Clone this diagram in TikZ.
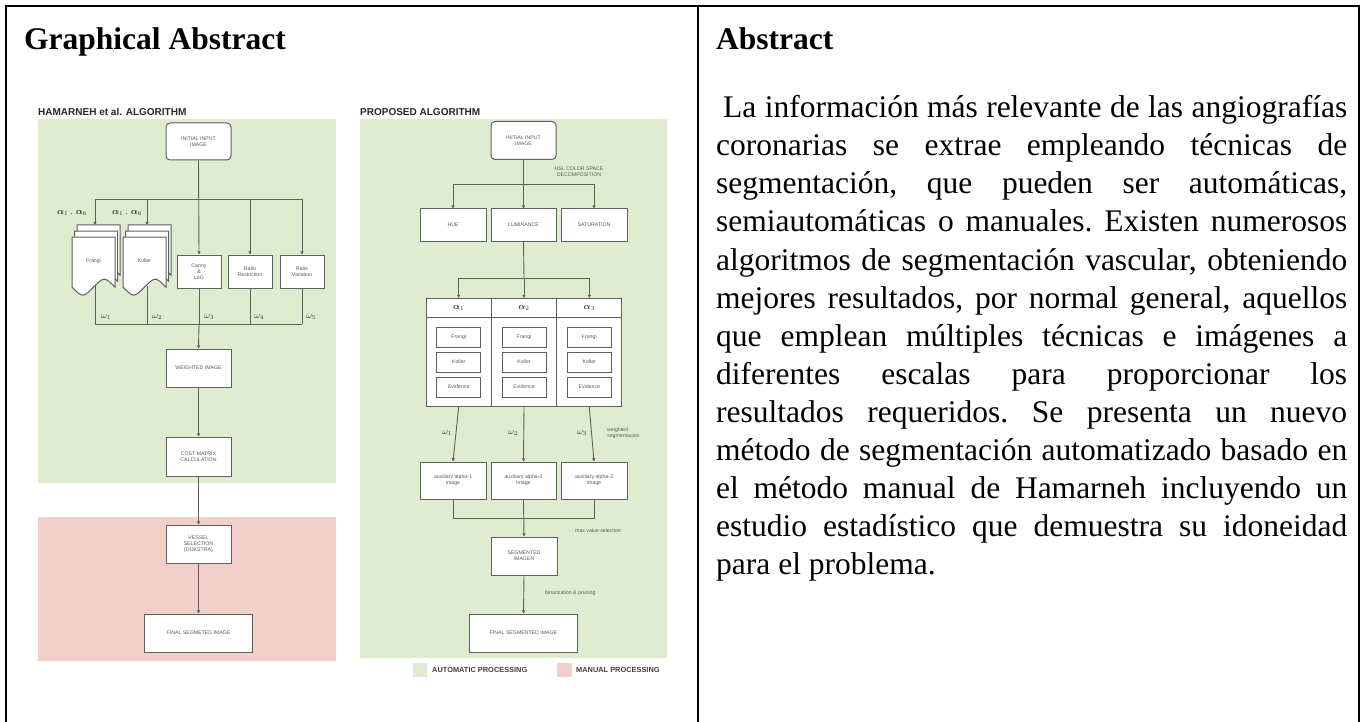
\documentclass[tikz,border=0pt]{standalone}
\usepackage{amsmath}
\usepackage{fontspec}
\setmainfont{Liberation Serif}
\setsansfont{Liberation Sans}
\usetikzlibrary{arrows.meta}
\definecolor{greenbg}{RGB}{224,236,208}
\definecolor{pinkbg}{RGB}{240,208,200}
\definecolor{boxgray}{RGB}{95,95,95}
\definecolor{txtgray}{RGB}{90,90,90}
\newcommand\DocPage[4]{%
  \pgfmathsetmacro\dy{0.3*#4}%
  \filldraw[fill=white,draw=boxgray,line width=1pt]
    (#1,#2) -- ({#1+#3},#2) -- ({#1+#3},{#2+#4-\dy/2})
    .. controls ({#1+0.75*#3},{#2+#4-1.1*\dy}) .. ({#1+0.5*#3},{#2+#4-\dy/2})
    .. controls ({#1+0.25*#3},{#2+#4+0.1*\dy}) .. (#1,{#2+#4-\dy/2}) -- cycle;}
\newcommand\JL[1]{\hbox to 631pt{\frenchspacing\spaceskip=0.25em plus 1fil\relax #1}}
\tikzset{
  box/.style={draw=boxgray,fill=white,line width=1pt,inner sep=0pt,align=center,
    text=txtgray,font=\sffamily\fontsize{5.2}{6}\selectfont},
  rbox/.style={box,rounded corners=4pt},
  plain/.style={draw=boxgray,line width=0.9pt},
  arr/.style={plain,-{Triangle[width=3.2pt,length=3.2pt]}},
  small/.style={text=txtgray,font=\sffamily\fontsize{5.2}{6}\selectfont,inner sep=0pt,align=left},
  omega/.style={text=black!80,font=\fontsize{9}{10}\selectfont,inner sep=0pt},
  hdr/.style={font=\sffamily\bfseries\fontsize{10}{11}\selectfont,inner sep=0pt,text=black!85},
  leg/.style={font=\sffamily\bfseries\fontsize{7.4}{9}\selectfont,inner sep=0pt,text=black!75},
  border/.style={line width=2.4pt,black},
  ttl/.style={anchor=base west,inner sep=0pt,font=\bfseries\fontsize{31.5}{36}\selectfont},
  bl/.style={anchor=base west,inner sep=0pt,font=\fontsize{31.5}{36}\selectfont}
}
\begin{document}
\begin{tikzpicture}[x=1pt,y=-1pt]
\useasboundingbox (0,0) rectangle (1365,722);
% table frame
\draw[border] (6,722) -- (6,6) -- (1359,6) -- (1359,722);
\draw[border] (698,6) -- (698,722);
\node[ttl] (tgraph) at (24,50) {Graphical Abstract};
\node[ttl] (tabs) at (716,50) {Abstract};
% abstract body
\node[bl] (b1) at (716,118) {\JL{\hspace*{7pt}La información más relevante de las angiografías}};
\node[bl] (b2) at (716,156) {\JL{coronarias se extrae empleando técnicas de}};
\node[bl] (b3) at (716,194) {\JL{segmentación, que pueden ser automáticas,}};
\node[bl] (b4) at (716,232) {\JL{semiautomáticas o manuales. Existen numerosos}};
\node[bl] (b5) at (716,270) {\JL{algoritmos de segmentación vascular, obteniendo}};
\node[bl] (b6) at (716,308) {\JL{mejores resultados, por normal general, aquellos}};
\node[bl] (b7) at (716,346) {\JL{que emplean múltiples técnicas e imágenes a}};
\node[bl] (b8) at (716,384) {\JL{diferentes escalas para proporcionar los}};
\node[bl] (b9) at (716,422) {\JL{resultados requeridos. Se presenta un nuevo}};
\node[bl] (b10) at (716,460) {\JL{método de segmentación automatizado basado en}};
\node[bl] (b11) at (716,498) {\JL{el método manual de Hamarneh incluyendo un}};
\node[bl] (b12) at (716,536) {\JL{estudio estadístico que demuestra su idoneidad}};
\node[bl] (b13) at (716,574) {para el problema.};
% ================= LEFT DIAGRAM =================
\fill[greenbg] (38,119) rectangle (336,483);
\fill[pinkbg] (38,517) rectangle (336,661);
\node[hdr,anchor=west] (hL) at (38,112) {HAMARNEH et al. ALGORITHM};
\node[rbox,minimum width=65pt,minimum height=37pt] (iniL) at (198.5,141.5) {INITIAL INPUT\\IMAGE};
% document stacks
\DocPage{77}{225}{43}{59}\DocPage{74.5}{231}{43}{59}\DocPage{72}{237}{43}{59}
\DocPage{128}{225}{43}{59}\DocPage{125.5}{231}{43}{59}\DocPage{123}{237}{43}{59}
\node[small,align=center] (frangi) at (93.5,261) {Frangi};
\node[small,align=center] (koller) at (144.5,261) {Koller};
\coordinate (frT) at (95,225); \coordinate (koT) at (147,225);
\coordinate (frB) at (95,286); \coordinate (koB) at (147,286);
\node[omega] (alA) at (72,213) {$\boldsymbol{\alpha}_1$ . $\boldsymbol{\alpha}_6$};
\node[omega] (alB) at (127,213) {$\boldsymbol{\alpha}_1$ . $\boldsymbol{\alpha}_6$};
\node[box,minimum width=44pt,minimum height=33pt] (canny) at (199,271.5) {Canny\\\&\\LoG};
\node[box,minimum width=44pt,minimum height=33pt] (rr) at (250,271.5) {Ratio\\Restriction};
\node[box,minimum width=44pt,minimum height=33pt] (rv) at (302,271.5) {Ratio\\Variation};
\coordinate (jA) at (95,199); \coordinate (jB) at (147,199);
\coordinate (jD) at (250,199); \coordinate (jE) at (302,199);
\draw[plain] (jA) -- (jE);
\draw[arr] (iniL.south) -- (canny.north);
\draw[arr] (jA) -- (frT);
\draw[arr] (jB) -- (koT);
\draw[arr] (jD) -- (rr.north);
\draw[arr] (jE) -- (rv.north);
\coordinate (bA) at (95,324); \coordinate (bB) at (147,324); \coordinate (bC) at (199,324);
\coordinate (bD) at (250,324); \coordinate (bE) at (302,324);
\draw[plain] (frB) -- (bA) -- (bE);
\draw[plain] (koB) -- (bB);
\draw[plain] (canny.south) -- (bC);
\draw[plain] (rr.south) -- (bD);
\draw[plain] (rv.south) -- (bE);
\node[omega,anchor=west] (wl1) at (101,317) {$\omega_1$};
\node[omega,anchor=west] (wl2) at (152,317) {$\omega_2$};
\node[omega,anchor=west] (wl3) at (204,317) {$\omega_3$};
\node[omega,anchor=west] (wl4) at (254,317) {$\omega_4$};
\node[omega,anchor=west] (wl5) at (306,317) {$\omega_5$};
\node[box,minimum width=65pt,minimum height=38pt] (wimg) at (198.5,368) {WEIGHTED IMAGE};
\node[box,minimum width=65pt,minimum height=39pt] (cost) at (198.5,456.5) {COST MATRIX\\CALCULATION};
\node[box,minimum width=65pt,minimum height=38pt] (vessel) at (198.5,544) {VESSEL\\SELECTION\\(DIJKSTRA)};
\node[box,minimum width=108pt,minimum height=38pt] (finL) at (198.5,633) {FINAL SEGMETED IMAGE};
\draw[arr] (bC) -- (wimg.north);
\draw[arr] (wimg.south) -- (cost.north);
\draw[arr] (cost.south) -- (vessel.north);
\draw[arr] (vessel.south) -- (finL.north);
% ================= RIGHT DIAGRAM =================
\fill[greenbg] (360,119) rectangle (667,658);
\node[hdr,anchor=west] (hR) at (360,112) {PROPOSED ALGORITHM};
\node[rbox,minimum width=65pt,minimum height=38pt] (iniR) at (523.5,140.5) {INITIAL INPUT\\IMAGE};
\node[small,align=center] (hsl) at (579,172) {HSL COLOR SPACE\\DECOMPOSITION};
\node[box,minimum width=66pt,minimum height=32pt] (hue) at (453,225) {HUE};
\node[box,minimum width=65pt,minimum height=32pt] (lum) at (523.5,225) {LUMINANCE};
\node[box,minimum width=66pt,minimum height=32pt] (sat) at (594,225) {SATURATION};
\coordinate (hA) at (453,184); \coordinate (hC) at (594,184);
\draw[plain] (hA) -- (hC);
\draw[arr] (iniR.south) -- (lum.north);
\draw[arr] (hA) -- (hue.north);
\draw[arr] (hC) -- (sat.north);
% alpha table
\node[box,minimum width=65.3pt,minimum height=108pt,anchor=north] (c1) at (458.7,298) {};
\node[box,minimum width=65.3pt,minimum height=108pt,anchor=north] (c2) at (524,298) {};
\node[box,minimum width=65.3pt,minimum height=108pt,anchor=north] (c3) at (589.3,298) {};
\coordinate (tL) at (426,317); \coordinate (tR) at (622,317);
\draw[boxgray,line width=1pt] (tL) -- (tR);
\node[omega] (a1) at (458.7,307.5) {$\boldsymbol{\alpha}_1$};
\node[omega] (a2) at (524,307.5) {$\boldsymbol{\alpha}_2$};
\node[omega] (a3) at (589.3,307.5) {$\boldsymbol{\alpha}_3$};
\foreach \cx/\k in {458.7/1,524/2,589.3/3}{
  \node[box,minimum width=44pt,minimum height=20pt] (f\k) at (\cx,337) {Frangi};
  \node[box,minimum width=44pt,minimum height=20pt] (k\k) at (\cx,362) {Koller};
  \node[box,minimum width=44pt,minimum height=20pt] (e\k) at (\cx,387) {Evidence};
}
\coordinate (lA) at (458.7,278); \coordinate (lC) at (589.3,278);
\coordinate (lB) at (524,278);
\draw[plain] (lum.south) -- (lB);
\draw[plain] (lA) -- (lC);
\draw[arr] (lA) -- (c1.north);
\draw[arr] (lB) -- (c2.north);
\draw[arr] (lC) -- (c3.north);
\node[box,minimum width=66pt,minimum height=37pt] (x1) at (453,480.5) {auxiliary alpha-1\\image};
\node[box,minimum width=65pt,minimum height=37pt] (x2) at (523.5,480.5) {auxiliary alpha-2\\image};
\node[box,minimum width=66pt,minimum height=37pt] (x3) at (594,480.5) {auxiliary alpha-3\\image};
\draw[arr] (c1.south) -- (x1.north);
\draw[arr] (c2.south) -- (x2.north);
\draw[arr] (c3.south) -- (x3.north);
\node[omega] (w1) at (447,433) {$\omega_1$};
\node[omega] (w2) at (513,433) {$\omega_2$};
\node[omega] (w3) at (582,433) {$\omega_3$};
\node[small,anchor=west] (wseg) at (607,433) {weighted\\segmentacion};
\node[box,minimum width=66pt,minimum height=38pt] (seg) at (524,556) {SEGMENTED\\IMAGEN};
\node[box,minimum width=108pt,minimum height=38pt] (finR) at (523.5,633) {FINAL SEGMENTED IMAGE};
\coordinate (sA) at (453,518); \coordinate (sC) at (594,518);
\draw[plain] (x1.south) -- (sA) -- (sC) -- (x3.south);
\draw[arr] (x2.south) -- (seg.north);
\draw[arr] (seg.south) -- (finR.north);
\node[small,anchor=west] (maxv) at (575,531) {max value selection};
\node[small,anchor=west] (binp) at (545,593) {binarization \& pruning};
% legend
\fill[greenbg] (413,663) rectangle (427,677);
\fill[pinkbg] (557,663) rectangle (572,677);
\node[leg,anchor=west] (lg1) at (432,670) {AUTOMATIC PROCESSING};
\node[leg,anchor=west] (lg2) at (576,670) {MANUAL PROCESSING};
\end{tikzpicture}
\end{document}
